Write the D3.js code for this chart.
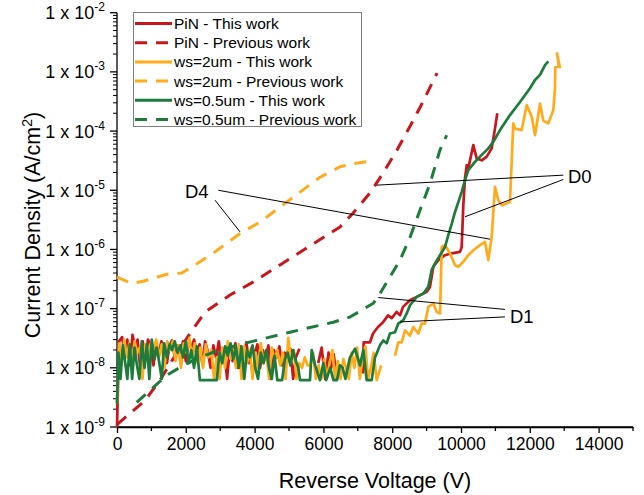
<!DOCTYPE html>
<html><head><meta charset="utf-8">
<script src="https://cdn.jsdelivr.net/npm/d3@7"></script>
<style>
body{margin:0;background:#fff;}
text{font-family:Arial,"Liberation Sans",sans-serif;fill:#000;}
</style></head>
<body><svg id="c" width="644" height="495"></svg>
<script>
// ---------- DATA ----------
const pinThis = [[0,1.0e-9],[60,2.8e-8],[150,3.3e-8],[230,1.5e-8],[300,3.0e-8],[380,1.1e-8],[450,3.6e-8],[530,2.2e-8],[600,3.0e-8],[680,9e-9],[750,2.8e-8],[830,1.4e-8],[900,3.0e-8],[980,2.4e-8],[1060,1.1e-8],[1130,2.6e-8],[1210,1.6e-8],[1290,2.8e-8],[1370,2.0e-8],[1450,1.2e-8],[1530,2.4e-8],[1600,2.9e-8],[1680,1.5e-8],[1760,2.4e-8],[1840,1.8e-8],[1920,2.8e-8],[2000,1.3e-8],[2080,2.6e-8],[2160,2.2e-8],[2240,3.0e-8],[2320,1.8e-8],[2400,2.5e-8],[2480,1.2e-8],[2560,2.8e-8],[2640,1.9e-8],[2720,1.0e-8],[2800,2.4e-8],[2880,1.5e-8],[2960,2.8e-8],[3040,1.2e-8],[3120,2.0e-8],[3200,6.5e-9],[3280,2.2e-8],[3360,1.3e-8],[3440,2.6e-8],[3520,1.0e-8],[3600,2.3e-8],[3680,1.6e-8],[3760,2.7e-8],[3840,1.2e-8],[3920,2.2e-8],[4000,1.7e-8],[4080,2.5e-8],[4160,1.0e-8],[4240,2.0e-8],[4320,1.4e-8],[4400,2.4e-8],[4480,6.5e-9],[4560,2.0e-8],[4640,1.5e-8],[4720,2.3e-8],[4800,1.1e-8],[4880,1.8e-8],[4960,1.3e-8],[5040,2.1e-8],[5120,6.5e-9],[5200,1.5e-8],[5300,2.1e-8],[5350,null],[5850,1.2e-8],[5950,2.2e-8],[6050,6.5e-9],[6150,1.8e-8],[6230,1.0e-8],[6300,1.7e-8],[6390,6.5e-9],[6450,null],[7150,8e-9],[7170,2.7e-8],[7355,2.7e-8],[7442,3.8e-8],[7587,4.9e-8],[7733,5.9e-8],[7878,7.7e-8],[7985,6.9e-8],[8131,8.8e-8],[8227,7.7e-8],[8314,1.07e-7],[8517,1.39e-7],[8712,1.58e-7],[9003,1.92e-7],[9099,2.33e-7],[9195,5.1e-7],[9340,6.6e-7],[9535,8.0e-7],[9730,8.6e-7],[9971,9.1e-7],[10020,1.1e-6],[10067,5.6e-6],[10116,1.58e-5],[10166,2.66e-5],[10212,2.34e-5],[10358,5.8e-5],[10456,3.45e-5],[10602,3.2e-5],[10747,3.7e-5],[10892,5.1e-5],[10988,1.1e-4],[11055,2.0e-4]];

const pinPrev = [[0,1.1e-9],[378,1.7e-9],[814,2.8e-9],[1250,6.2e-9],[1686,1.6e-8],[2122,3.8e-8],[2558,8.7e-8],[3285,1.7e-7],[3953,2.8e-7],[5320,9e-7],[6483,2.4e-6],[6860,4.1e-6],[7355,9.0e-6],[7733,1.95e-5],[8140,4.8e-5],[8517,1.2e-4],[8808,2.5e-4],[9302,9.5e-4]];

const ws2This = [[0,2.5e-9],[60,2.6e-8],[140,1.2e-8],[210,3.0e-8],[290,1.5e-8],[360,2.6e-8],[440,1.0e-8],[510,2.8e-8],[590,1.8e-8],[660,2.2e-8],[740,6.5e-9],[820,2.5e-8],[900,1.3e-8],[980,2.6e-8],[1060,2.0e-8],[1140,3.0e-8],[1220,1.5e-8],[1300,2.5e-8],[1380,1.0e-8],[1460,2.8e-8],[1540,2.0e-8],[1620,2.8e-8],[1700,1.3e-8],[1780,2.4e-8],[1860,1.0e-8],[1940,2.6e-8],[2020,1.8e-8],[2100,3.2e-8],[2180,1.5e-8],[2260,2.6e-8],[2340,1.2e-8],[2420,2.2e-8],[2500,1.0e-8],[2580,2.5e-8],[2660,1.5e-8],[2740,2.0e-8],[2820,6.5e-9],[2900,1.5e-8],[2980,6.5e-9],[3060,2.2e-8],[3140,1.0e-8],[3220,2.8e-8],[3300,1.4e-8],[3380,2.0e-8],[3460,1.0e-8],[3540,2.5e-8],[3620,6.5e-9],[3700,2.3e-8],[3780,1.2e-8],[3860,2.0e-8],[3940,6.5e-9],[4020,1.8e-8],[4100,1.0e-8],[4180,2.6e-8],[4260,1.2e-8],[4340,1.8e-8],[4420,6.5e-9],[4500,2.2e-8],[4580,1.3e-8],[4660,2.0e-8],[4740,1.1e-8],[4820,1.8e-8],[4900,6.5e-9],[4980,3.2e-8],[5060,1.2e-8],[5140,2.0e-8],[5220,6.5e-9],[5300,1.2e-8],[5380,1.0e-8],[5460,1.5e-8],[5540,1.1e-8],[5620,1.1e-8],[5700,1.8e-8],[5780,6.5e-9],[5860,1.1e-8],[5940,6.5e-9],[6020,1.4e-8],[6100,6.5e-9],[6180,1.2e-8],[6260,2.0e-8],[6340,6.5e-9],[6420,1.3e-8],[6500,6.5e-9],[6580,1.4e-8],[6660,1.0e-8],[6740,6.5e-9],[6820,1.8e-8],[6900,1.0e-8],[6980,2.2e-8],[7060,6.5e-9],[7140,1.5e-8],[7220,2.3e-8],[7300,6.5e-9],[7380,1.0e-8],[7460,1.8e-8],[7550,6.2e-9],[7680,1.1e-8],[7750,null],[8081,1.6e-8],[8177,2.7e-8],[8276,2.7e-8],[8372,4.3e-8],[8517,3.5e-8],[8613,4.9e-8],[8759,3.8e-8],[8857,5.6e-8],[8953,5.6e-8],[9049,1.07e-7],[9195,1.22e-7],[9294,8.8e-8],[9390,8.3e-8],[9439,1.1e-6],[9535,1.18e-6],[9680,8.6e-7],[9826,5.4e-7],[9922,5.1e-7],[10067,6.2e-7],[10212,8.0e-7],[10358,9.7e-7],[10552,1.18e-6],[10698,1.34e-6],[10794,6.6e-7],[10892,1.63e-6],[10988,1.14e-5],[11084,6.8e-6],[11183,5.6e-6],[11328,6.0e-6],[11424,6.4e-6],[11520,1.35e-4],[11570,1.1e-4],[11765,1.04e-4],[11910,2.75e-4],[12055,1.75e-4],[12151,8.5e-5],[12297,2.9e-4],[12392,1.5e-4],[12538,1.35e-4],[12683,2.26e-4],[12733,5.3e-4],[12740,1.2e-3],[12840,1.25e-3],[12790,2.05e-3],[12880,1.15e-3]];

const ws2Prev = [[0,3.4e-7],[427,2.66e-7],[756,2.9e-7],[1445,3.8e-7],[1881,4.0e-7],[2413,6.2e-7],[2791,8.6e-7],[3576,1.86e-6],[4157,2.9e-6],[4738,5.2e-6],[5320,9.3e-6],[5901,1.66e-5],[6483,2.5e-5],[6860,2.8e-5],[7442,3.15e-5]];

const ws05This = [[0,2.5e-9],[40,1.8e-8],[100,6.5e-9],[170,2.4e-8],[240,1.2e-8],[300,6.5e-9],[370,2.5e-8],[440,6.5e-9],[510,2.2e-8],[580,1.1e-8],[650,6.5e-9],[720,2.8e-8],[800,1.0e-8],[870,2.5e-8],[940,6.5e-9],[1010,3.0e-8],[1090,1.4e-8],[1160,2.2e-8],[1230,1.2e-8],[1300,6.5e-9],[1370,2.6e-8],[1450,1.5e-8],[1530,2.5e-8],[1600,2.0e-8],[1680,2.8e-8],[1760,1.8e-8],[1840,2.4e-8],[1920,1.5e-8],[2000,2.8e-8],[2080,1.2e-8],[2160,2.0e-8],[2240,1.0e-8],[2320,2.3e-8],[2410,6.2e-9],[2900,6.2e-9],[2980,1.8e-8],[3060,1.2e-8],[3140,2.3e-8],[3220,1.6e-8],[3300,2.6e-8],[3380,1.4e-8],[3460,2.2e-8],[3540,1.0e-8],[3620,2.3e-8],[3700,6.5e-9],[3780,2.0e-8],[3860,1.5e-8],[3940,2.4e-8],[4020,1.0e-8],[4100,6.5e-9],[4180,1.8e-8],[4260,1.2e-8],[4340,2.0e-8],[4420,1.0e-8],[4500,6.5e-9],[4580,1.6e-8],[4660,6.2e-9],[4800,6.2e-9],[4880,1.4e-8],[4960,1.8e-8],[5040,1.1e-8],[5120,2.0e-8],[5200,1.3e-8],[5270,1.0e-8],[5320,6.2e-9],[5610,6.2e-9],[5660,2.0e-8],[5760,1.1e-8],[5900,6.2e-9],[6000,1.2e-8],[6080,6.2e-9],[6200,1.0e-8],[6290,6.2e-9],[6400,6.2e-9],[6480,1.1e-8],[6560,1.0e-8],[6640,6.5e-9],[6773,1.5e-8],[6919,2.1e-8],[7064,1.1e-8],[7160,2.0e-8],[7258,6.2e-9],[7404,6.2e-9],[7500,1.5e-8],[7645,2.4e-8],[7741,2.9e-8],[7840,2.6e-8],[7936,3.8e-8],[8081,4.0e-8],[8177,5.6e-8],[8323,6.4e-8],[8422,8.3e-8],[8517,1.14e-7],[8712,1.58e-7],[8904,1.8e-7],[9049,2.33e-7],[9148,4.5e-7],[9244,5.8e-7],[9390,8.0e-7],[9535,1.1e-6],[9631,1.74e-6],[9730,2.7e-6],[9826,4.3e-6],[9922,6.3e-6],[10020,9.4e-6],[10116,1.48e-5],[10212,2.19e-5],[10358,2.8e-5],[10552,3.7e-5],[10794,5.1e-5],[10939,6.6e-5],[11134,1.04e-4],[11424,1.86e-4],[11715,3.1e-4],[12006,5.3e-4],[12151,7.3e-4],[12297,8.9e-4],[12442,1.3e-3],[12538,1.5e-3]];

const ws05Prev = [[573,2.6e-9],[1445,7.5e-9],[2026,1.18e-8],[2800,1.85e-8],[3480,2.4e-8],[4253,3.1e-8],[5029,4.0e-8],[6288,5.9e-8],[6773,7.2e-8],[7451,1.23e-7],[7645,1.8e-7],[8227,6.6e-7],[8517,1.6e-6],[8808,4.6e-6],[9099,1.3e-5],[9390,4.8e-5],[9584,8.5e-5]];

const seriesNames = ["PiN - This work","PiN - Previous work","ws=2um - This work","ws=2um - Previous work","ws=0.5um - This work","ws=0.5um - Previous work"];
const seriesColors = ["#c8161d","#c8161d","#ffab1b","#ffab1b","#1d7b3b","#1d7b3b"];
const seriesDashed = [false,true,false,true,false,true];
const seriesData = [pinThis,pinPrev,ws2This,ws2Prev,ws05This,ws05Prev];

const xMajorTicks = [0,2000,4000,6000,8000,10000,12000,14000];
const xMinorTicks = [1000,3000,5000,7000,9000,11000,13000,15000];
const yDecades = [-9,-8,-7,-6,-5,-4,-3,-2];

// annotations: [label, labelV, labelJ, [[V1,J1,V2,J2],...]]
const annotations = [
  ["D0",13110,1.32e-5,[[7549,1.22e-5,12974,1.8e-5],[10116,3.56e-6,12974,1.52e-5]]],
  ["D1",11424,5.66e-8,[[7596,1.54e-7,11279,9.7e-8],[8227,5.96e-8,11279,7.25e-8]]],
  ["D4",1977,7.3e-6,[[2945,1.0e-5,10843,1.49e-6],[2849,6.8e-6,3576,1.98e-6]]]
];

// ---------- CHART ----------
const svg = d3.select("#c");
const x = d3.scaleLinear().domain([0,15000]).range([117,633]);
const y = d3.scaleLog().domain([1e-9,1e-2]).range([427,12.7]);

// x axis
const xAxis = svg.append("g").attr("transform","translate(0,427)")
  .call(d3.axisBottom(x).tickValues(xMajorTicks).tickSize(6).tickSizeOuter(0).tickPadding(5).tickFormat(d3.format("d")));
xAxis.select(".domain").attr("stroke","#000").attr("stroke-width",1.3);
xAxis.selectAll(".tick line").attr("stroke-width",1.3);
xAxis.selectAll("text").attr("font-size",17.5).attr("font-family","Arial, 'Liberation Sans', sans-serif");
xAxis.selectAll(".minor").data(xMinorTicks).enter().append("line")
  .attr("x1",d=>x(d)).attr("x2",d=>x(d)).attr("y1",0).attr("y2",4)
  .attr("stroke","#000").attr("stroke-width",1.3);
svg.append("line").attr("x1",x(0)).attr("x2",x(15000)).attr("y1",427).attr("y2",427).attr("stroke","#000").attr("stroke-width",1.3);

// y axis
const yg = svg.append("g");
yg.append("line").attr("x1",117).attr("x2",117).attr("y1",y(1e-9)).attr("y2",y(1e-2)).attr("stroke","#000").attr("stroke-width",1.3);
const minorVals = [];
yDecades.slice(0,-1).forEach(k=>{ for(let m=2;m<=9;m++) minorVals.push(m*Math.pow(10,k)); });
yg.selectAll(".ymin").data(minorVals).enter().append("line")
  .attr("x1",113).attr("x2",117).attr("y1",d=>y(d)).attr("y2",d=>y(d))
  .attr("stroke","#000").attr("stroke-width",1);
yg.selectAll(".ymaj").data(yDecades).enter().append("line")
  .attr("x1",110).attr("x2",117).attr("y1",d=>y(Math.pow(10,d))).attr("y2",d=>y(Math.pow(10,d)))
  .attr("stroke","#000").attr("stroke-width",1.3);
const yl = yg.selectAll(".ylab").data(yDecades).enter().append("text")
  .attr("x",105).attr("y",d=>y(Math.pow(10,d))+6.5).attr("text-anchor","end").attr("font-size",18);
yl.append("tspan").text("1 x 10");
yl.append("tspan").attr("dy",-8).attr("font-size",12).text(d=>String(d));

// axis titles
svg.append("text").attr("x",375).attr("y",488).attr("text-anchor","middle").attr("font-size",21.5).text("Reverse Voltage (V)");
const yt = svg.append("text").attr("transform","translate(40,225) rotate(-90)").attr("text-anchor","middle").attr("font-size",21.5);
yt.append("tspan").text("Current Density (A/cm");
yt.append("tspan").attr("dy",-8).attr("font-size",14).text("2");
yt.append("tspan").attr("dy",8).text(")");

// series
const line = d3.line().defined(d=>d[1]!=null).x(d=>x(d[0])).y(d=>y(d[1]));
seriesData.forEach((data,i)=>{
  svg.append("path").datum(data).attr("d",line).attr("fill","none")
    .attr("stroke",seriesColors[i]).attr("stroke-width",seriesDashed[i]?3:2.7)
    .attr("stroke-linejoin","round")
    .attr("stroke-dasharray",seriesDashed[i]?"12,9":null);
});

// annotations
annotations.forEach(a=>{
  a[3].forEach(l=>{
    svg.append("line").attr("x1",x(l[0])).attr("y1",y(l[1])).attr("x2",x(l[2])).attr("y2",y(l[3]))
      .attr("stroke","#000").attr("stroke-width",1);
  });
  svg.append("text").attr("x",x(a[1])).attr("y",y(a[2])).attr("font-size",18.5).text(a[0]);
});

// legend
const lg = svg.append("g");
lg.append("rect").attr("x",133.5).attr("y",12.5).attr("width",228).attr("height",114)
  .attr("fill","#fff").attr("stroke","#808080").attr("stroke-width",1);
seriesNames.forEach((n,i)=>{
  const yy = 23.5 + i*19.2;
  lg.append("line").attr("x1",135).attr("x2",172).attr("y1",yy).attr("y2",yy)
    .attr("stroke",seriesColors[i]).attr("stroke-width",3)
    .attr("stroke-dasharray",seriesDashed[i]?"12,9":null);
  lg.append("text").attr("x",174).attr("y",yy+5.5).attr("font-size",15.5).text(n);
});
</script></body></html>
